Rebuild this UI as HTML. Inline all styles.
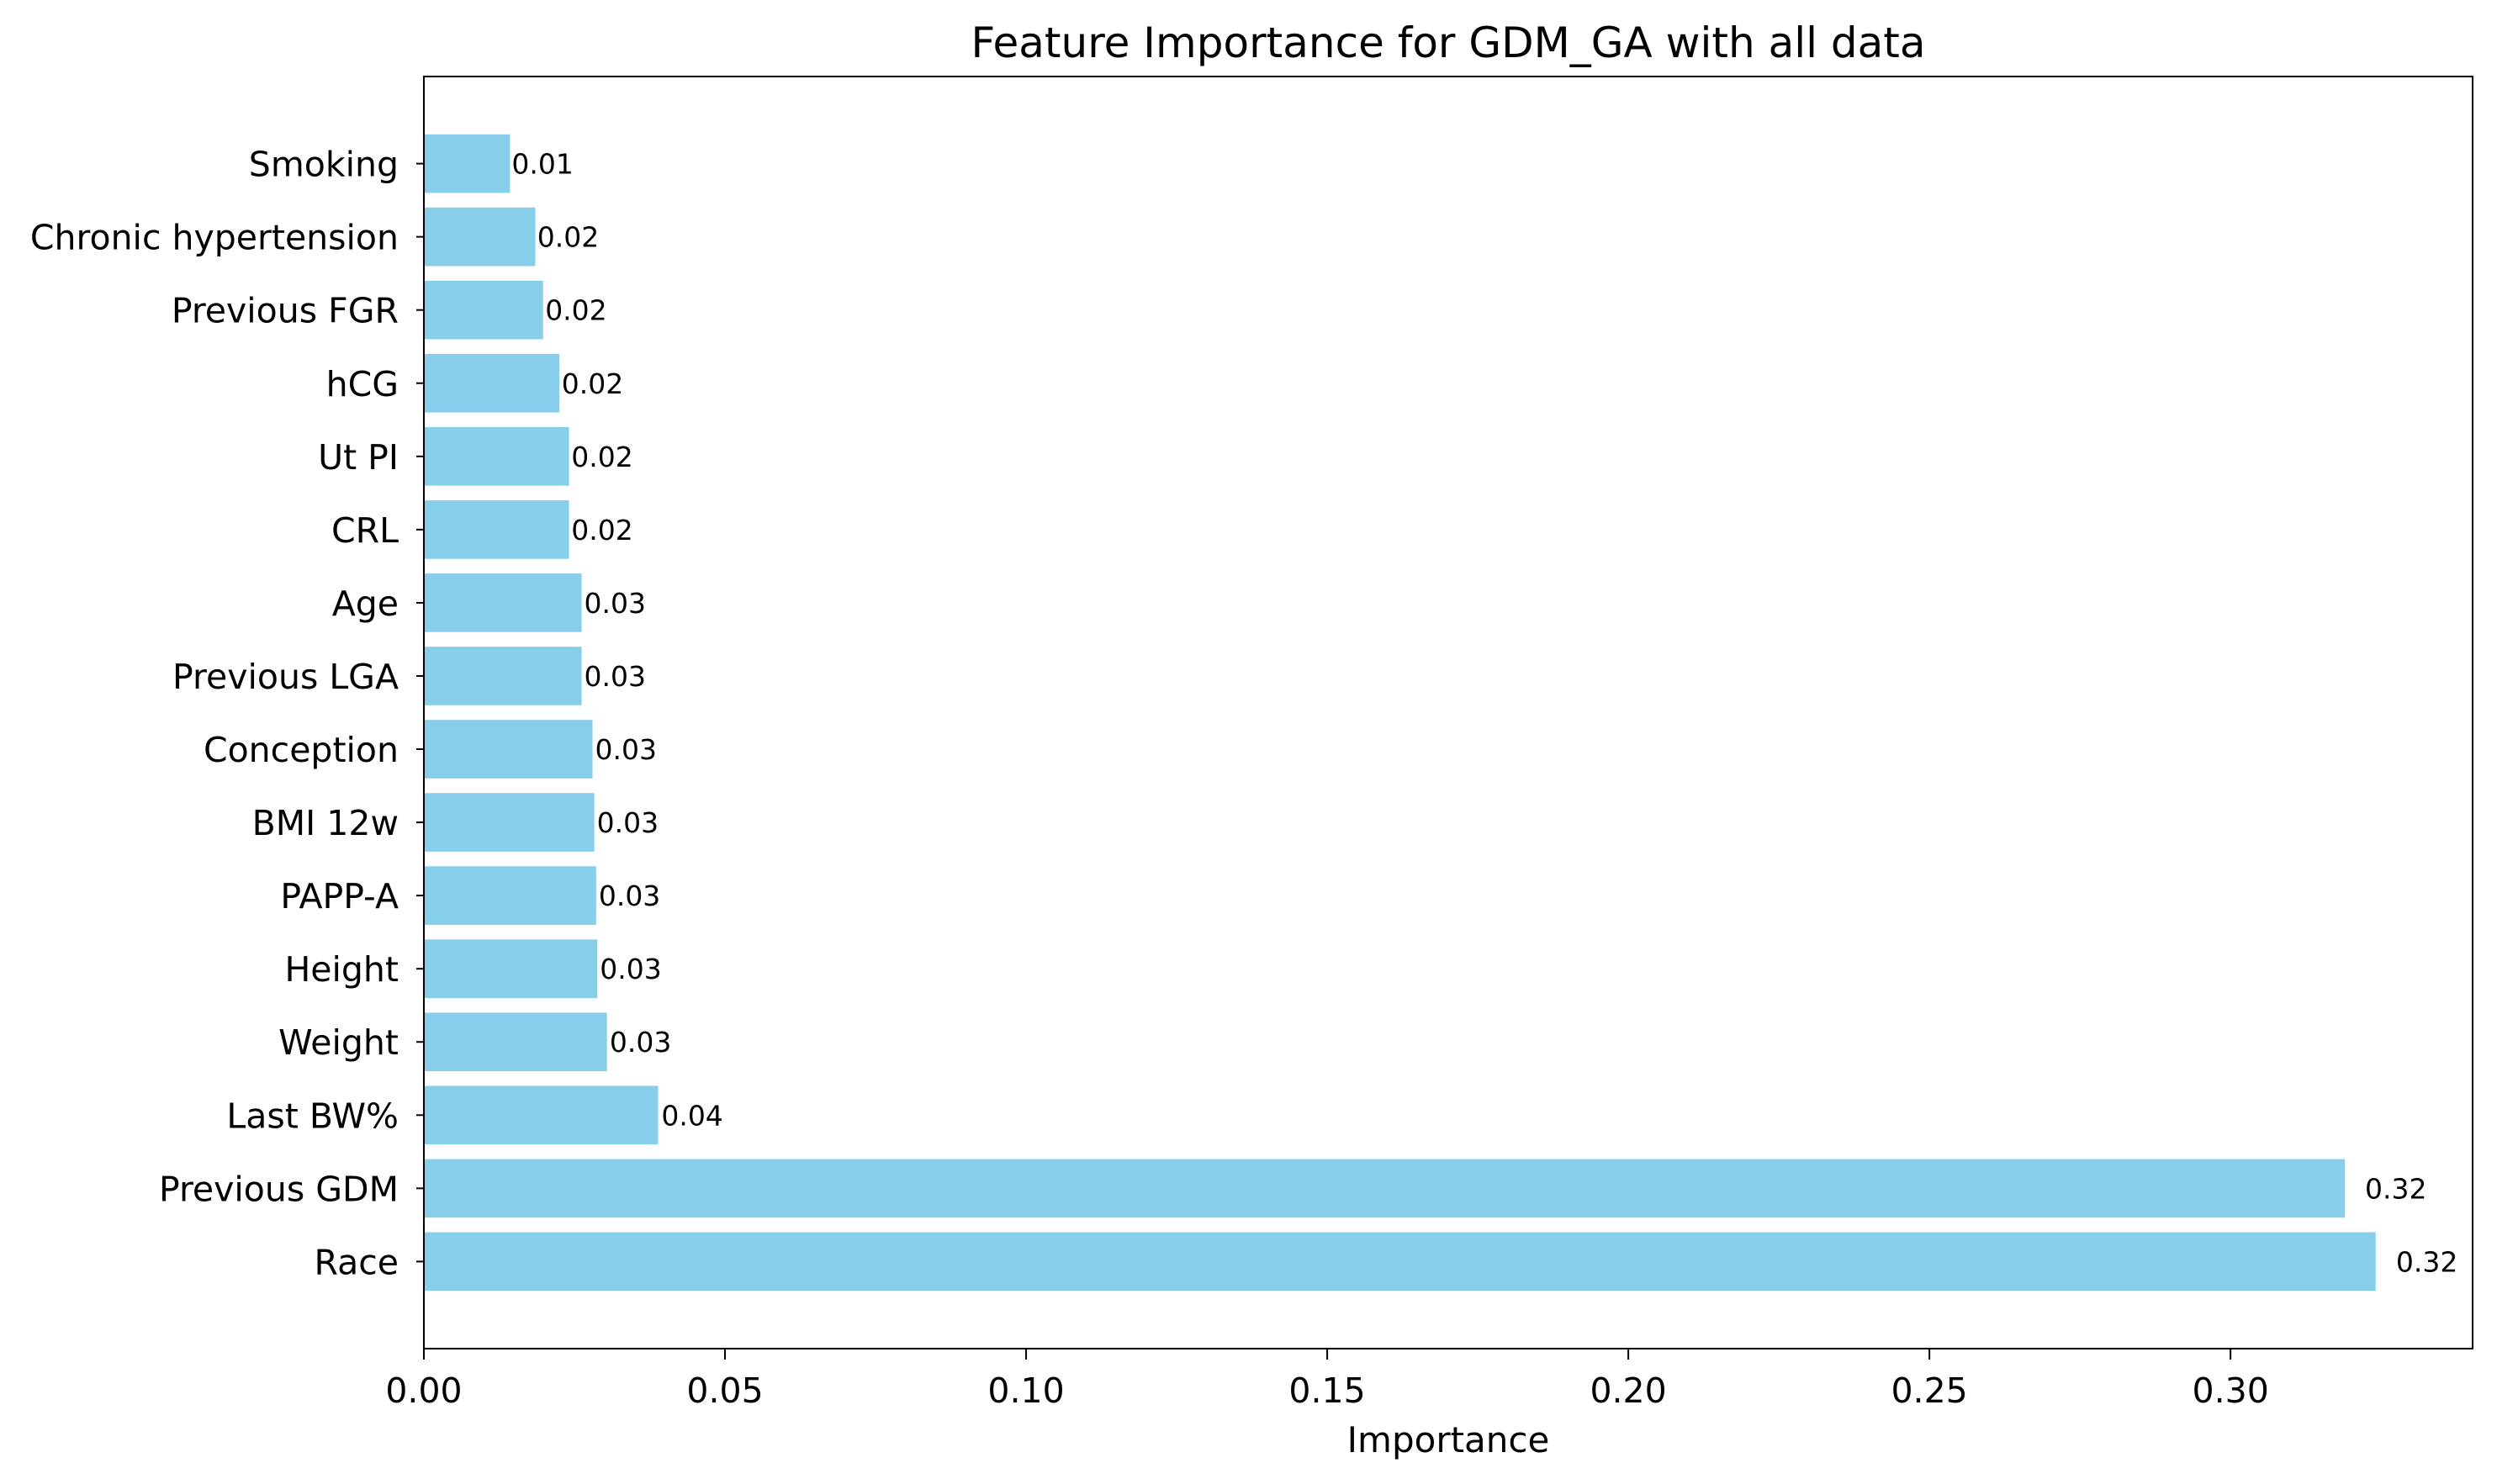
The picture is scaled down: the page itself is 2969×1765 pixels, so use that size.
<!DOCTYPE html>
<html><head><meta charset="utf-8"><style>
html,body{margin:0;padding:0;background:#fff;}
svg{display:block;font-family:"DejaVu Sans","Liberation Sans",sans-serif;}
</style></head><body>
<svg id="chart" width="2969" height="1765" xmlns="http://www.w3.org/2000/svg">
<rect width="2969" height="1765" fill="#fff"/>
<g id="bars"></g>
<g id="yaxis"></g>
<g id="xaxis"></g>
<rect x="504" y="91" width="2436" height="1513" fill="none" stroke="#000" stroke-width="2"/>
<text x="1722" y="68" font-size="50" text-anchor="middle">Feature Importance for GDM_GA with all data</text>
<text x="1722" y="1727" font-size="42" text-anchor="middle">Importance</text>
</svg>
<script>
const categories = ["Race","Previous GDM","Last BW%","Weight","Height","PAPP-A","BMI 12w","Conception","Previous LGA","Age","CRL","Ut PI","hCG","Previous FGR","Chronic hypertension","Smoking"];
const values = [0.3241,0.3190,0.0389,0.0304,0.0288,0.0286,0.0283,0.0280,0.0262,0.0262,0.0241,0.0241,0.0225,0.0198,0.0185,0.0143];
const valueLabels = ["0.32","0.32","0.04","0.03","0.03","0.03","0.03","0.03","0.03","0.03","0.02","0.02","0.02","0.02","0.02","0.01"];
const xTicks = [0,0.05,0.10,0.15,0.20,0.25,0.30];
const xTickLabels = ["0.00","0.05","0.10","0.15","0.20","0.25","0.30"];

const NS="http://www.w3.org/2000/svg";
const L=504,R=2940,T=91,B=1604;
const xMax=0.3402;
const x=v=>L+(v/xMax)*(R-L);
const yMin=-1.19,yMax=categories.length-1+1.19;
const y=i=>B-(i-yMin)/(yMax-yMin)*(B-T);
const bh=0.8*(B-T)/(yMax-yMin);
function mk(tag,attrs,parent){const e=document.createElementNS(NS,tag);for(const k in attrs)e.setAttribute(k,attrs[k]);parent.appendChild(e);return e;}
const gb=document.getElementById('bars'),gy=document.getElementById('yaxis'),gx=document.getElementById('xaxis');
categories.forEach((c,i)=>{
  const r=mk('rect',{x:L,y:y(i)-bh/2,width:x(values[i])-L,height:bh,fill:'#87ceeb'},gb);
  
  
  const t=mk('text',{x:x(values[i]*1.01)+1,y:y(i)+12,'font-size':33},gb);
  t.textContent=valueLabels[i];
  
  
  const tk=mk('line',{x1:L-9,x2:L,y1:y(i),y2:y(i),stroke:'#000','stroke-width':2},gy);
  
  
  const lb=mk('text',{x:L-30,y:y(i)+15,'font-size':41,'text-anchor':'end'},gy);
  lb.textContent=c;
  
  
});
xTicks.forEach((v,i)=>{
  const tk=mk('line',{x1:x(v),x2:x(v),y1:B,y2:B+13,stroke:'#000','stroke-width':2},gx);
  
  
  const lb=mk('text',{x:x(v),y:1668,'font-size':41,'text-anchor':'middle'},gx);
  lb.textContent=xTickLabels[i];
  
  
});
</script>
</body></html>
